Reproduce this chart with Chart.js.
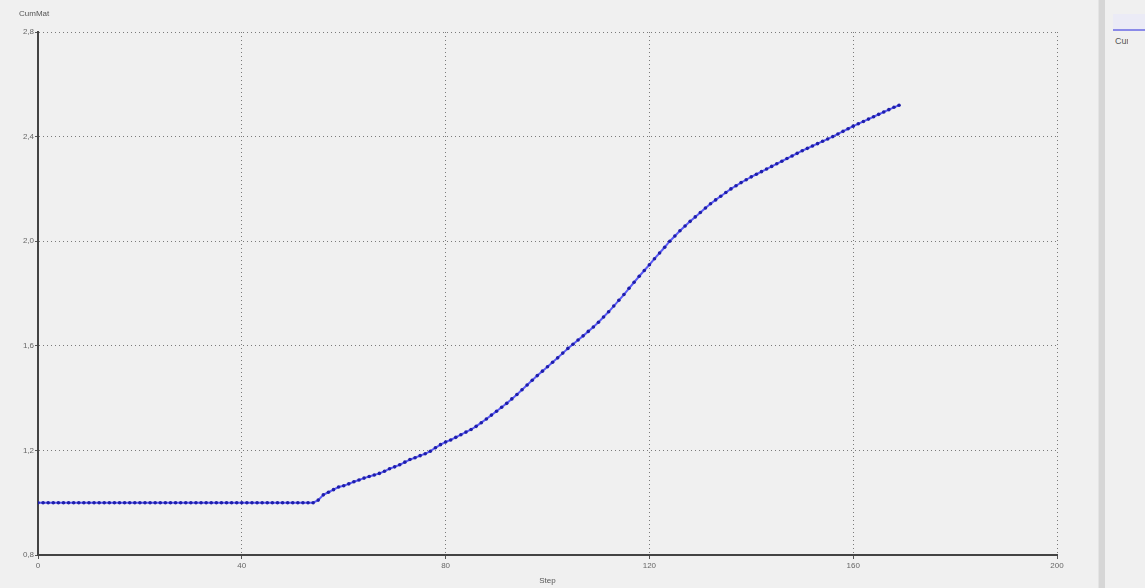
<!DOCTYPE html>
<html>
<head>
<meta charset="utf-8">
<script src="https://cdn.jsdelivr.net/npm/chart.js@4.4.1/dist/chart.umd.min.js"></script>
<style>
  html, body { margin: 0; padding: 0; background: #f0f0f0; }
  body { width: 1145px; height: 588px; position: relative; overflow: hidden; font-family: "Liberation Sans", Arial, sans-serif; }
  #wrap { position: absolute; left: 0; top: 0; width: 1098px; height: 588px; }
  #ytitle { position: absolute; left: 19px; top: 9px; font-size: 8px; color: #555; }
  #sep { position: absolute; left: 1098px; top: 0; width: 6px; height: 588px; background: #d6d6d6; border-left: 1px solid #e4e4e4; }
  #legline { position: absolute; left: 1113px; top: 29px; width: 40px; height: 2px; background: #8a8ae8; }
  #legband { position: absolute; left: 1113px; top: 14px; width: 40px; height: 15px; background: #ebebf6; }
  #legtext { position: absolute; left: 1115px; top: 36px; width: 13px; overflow: hidden; font-size: 9px; color: #555; white-space: nowrap; }
</style>
</head>
<body>
<div id="wrap"><canvas id="myChart"></canvas></div>
<div id="ytitle">CumMat</div>
<div id="sep"></div>
<div id="legband"></div>
<div id="legline"></div>
<div id="legtext">CumMat</div>
<script>
// x axis ticks and y axis ticks
const xTicks = [0, 40, 80, 120, 160, 200];
const yTicks = [0.8, 1.2, 1.6, 2.0, 2.4, 2.8];

// steps 0..54 stay flat at 1.0
const flatPart = [
  1.0, 1.0, 1.0, 1.0, 1.0, 1.0, 1.0, 1.0, 1.0, 1.0,
  1.0, 1.0, 1.0, 1.0, 1.0, 1.0, 1.0, 1.0, 1.0, 1.0,
  1.0, 1.0, 1.0, 1.0, 1.0, 1.0, 1.0, 1.0, 1.0, 1.0,
  1.0, 1.0, 1.0, 1.0, 1.0, 1.0, 1.0, 1.0, 1.0, 1.0,
  1.0, 1.0, 1.0, 1.0, 1.0, 1.0, 1.0, 1.0, 1.0, 1.0,
  1.0, 1.0, 1.0, 1.0, 1.0,
];
// steps 55..169
const risePart = [
  1.01, 1.03, 1.04, 1.05, 1.06, 1.065, 1.072, 1.08, 1.087, 1.094,
  1.10, 1.106, 1.112, 1.12, 1.13, 1.137, 1.145, 1.155, 1.165, 1.172,
  1.18, 1.187, 1.197, 1.21, 1.222, 1.232, 1.24, 1.25, 1.26, 1.27,
  1.28, 1.292, 1.306, 1.32, 1.335, 1.35, 1.365, 1.38, 1.397, 1.414,
  1.432, 1.45, 1.468, 1.486, 1.503, 1.52, 1.537, 1.554, 1.572, 1.59,
  1.606, 1.622, 1.638, 1.655, 1.672, 1.69, 1.71, 1.73, 1.752, 1.774,
  1.796, 1.82, 1.843, 1.866, 1.888, 1.91, 1.933, 1.955, 1.977, 2.0,
  2.02, 2.04, 2.058, 2.076, 2.093, 2.11, 2.127, 2.143, 2.158, 2.172,
  2.186, 2.2, 2.212, 2.224, 2.235, 2.246, 2.256, 2.266, 2.276, 2.286,
  2.296, 2.306, 2.316, 2.326, 2.336, 2.346, 2.355, 2.364, 2.373, 2.382,
  2.391, 2.40, 2.41, 2.42, 2.43, 2.44, 2.449, 2.458, 2.467, 2.476,
  2.485, 2.494, 2.503, 2.512, 2.52,
];
const cumMat = flatPart.concat(risePart);
const points = cumMat.map((v, i) => ({ x: i, y: v }));

const tickFont = { family: "Liberation Sans", size: 8 };

const ctx = document.getElementById("myChart");
const myChart = new Chart(ctx, {
  type: "line",
  data: {
    datasets: [
      {
        label: "CumMat",
        data: points,
        borderColor: "rgb(90, 90, 245)",
        borderWidth: 2,
        pointRadius: 1.8,
        pointBackgroundColor: "rgb(30, 30, 170)",
        pointBorderColor: "rgb(30, 30, 170)",
        pointBorderWidth: 0,
        tension: 0,
      },
    ],
  },
  options: {
    responsive: true,
    maintainAspectRatio: false,
    animation: false,
    layout: { padding: { top: 32, right: 41, left: 0, bottom: 0 } },
    plugins: {
      legend: { display: false },
      tooltip: { enabled: false },
    },
    scales: {
      x: {
        type: "linear",
        min: 0,
        max: 200,
        afterBuildTicks: (scale) => {
          scale.ticks = xTicks.map((v) => ({ value: v }));
        },
        afterFit: (scale) => {
          scale.height = 33;
        },
        ticks: {
          font: tickFont,
          color: "#666",
          padding: 2,
          maxRotation: 0,
        },
        grid: {
          color: "#7a7a7a",
          tickLength: 4,
          tickColor: "#555",
          tickBorderDash: [],
        },
        border: { display: true, color: "#444", width: 2, dash: [1, 3] },
        title: {
          display: true,
          text: "Step",
          font: tickFont,
          color: "#555",
          padding: { top: 0, bottom: 2 },
        },
      },
      y: {
        type: "linear",
        min: 0.8,
        max: 2.8,
        afterBuildTicks: (scale) => {
          scale.ticks = yTicks.map((v) => ({ value: v }));
        },
        afterFit: (scale) => {
          scale.width = 38;
        },
        ticks: {
          font: tickFont,
          color: "#666",
          padding: 1,
          callback: (v) => v.toFixed(1).replace(".", ","),
        },
        grid: {
          color: "#7a7a7a",
          tickLength: 3,
          tickColor: "#555",
          tickBorderDash: [],
        },
        border: { display: true, color: "#444", width: 2, dash: [1, 3] },
      },
    },
  },
});
</script>
</body>
</html>
